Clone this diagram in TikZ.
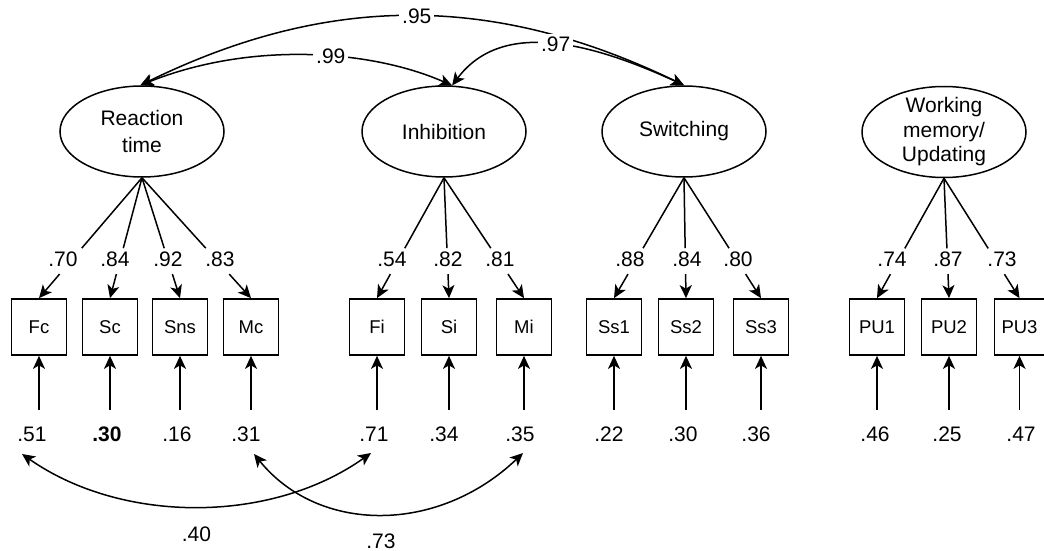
\documentclass[tikz,border=0pt]{standalone}
\usepackage{fontspec}
\setmainfont{Liberation Sans}
\usetikzlibrary{arrows.meta,shapes.geometric,calc}

\begin{document}
\begin{tikzpicture}[x=1pt,y=-1pt,
  line width=1.5pt,
  tip/.tip={Stealth[length=13pt,width=12pt,inset=3.5pt]},
  arr/.style={-tip},
  darr/.style={tip-tip},
  latent/.style={draw, ellipse, line width=1.5pt, minimum width=164pt,
    minimum height=91pt, inner sep=0pt},
  lattext/.style={align=center, font=\fontsize{21}{27}\selectfont, inner sep=0pt},
  obs/.style={draw, rectangle, line width=1.7pt, minimum width=55pt,
    minimum height=56pt, inner sep=0pt, font=\fontsize{18.5}{20}\selectfont},
  num/.style={font=\fontsize{21}{22}\selectfont, inner sep=2pt},
  numw/.style={num, fill=white, inner sep=3pt},
]
\fill[white] (0,0) rectangle (1044,551);
\useasboundingbox (0,0) rectangle (1044,551);

% latent factors
\node[latent, label={[lattext]center:Reaction\\time}] (RT) at (142,131.5) {};
\node[latent, label={[lattext]center:Inhibition}] (Inh) at (444,131.5) {};
\node[latent, label={[lattext]center:Switching}] (Sw) at (684,131.5) {};
\node[latent, label={[lattext,font=\fontsize{21}{24.5}\selectfont]center:Working\\memory/\\Updating}] (WM) at (944,132) {};

% observed indicators
\node[obs] (Fc)  at (39,327)  {Fc};
\node[obs] (Sc)  at (110,327) {Sc};
\node[obs] (Sns) at (180,327) {Sns};
\node[obs] (Mc)  at (251,327) {Mc};
\node[obs] (Fi)  at (377,327) {Fi};
\node[obs] (Si)  at (449,327) {Si};
\node[obs] (Mi)  at (524,327) {Mi};
\node[obs] (Ss1) at (614,327) {Ss1};
\node[obs] (Ss2) at (686,327) {Ss2};
\node[obs] (Ss3) at (761,327) {Ss3};
\node[obs] (PU1) at (877,327) {PU1};
\node[obs] (PU2) at (949,327) {PU2};
\node[obs, minimum width=50pt] (PU3) at (1019.5,327) {PU3};

% loading paths, broken where the coefficient sits
\foreach \l/\o in {RT/Fc,RT/Sc,RT/Sns,RT/Mc,Inh/Fi,Inh/Si,Inh/Mi,
                   Sw/Ss1,Sw/Ss2,Sw/Ss3,WM/PU1,WM/PU2,WM/PU3}{
  \path (\l.south) -- (\o.north) coordinate[pos=.585] (ga) coordinate[pos=.80] (gb);
  \draw (\l.south) -- (ga);
  \draw[arr] (gb) -- (\o.north);
}

% standardized loadings
\node[num] (lFc)  at (63,259)   {.70};
\node[num] (lSc)  at (115,259)  {.84};
\node[num] (lSns) at (168,259)  {.92};
\node[num] (lMc)  at (220,259)  {.83};
\node[num] (lFi)  at (392,259)  {.54};
\node[num] (lSi)  at (448,259)  {.82};
\node[num] (lMi)  at (500,259)  {.81};
\node[num] (lSs1) at (630,259)  {.88};
\node[num] (lSs2) at (687,259)  {.84};
\node[num] (lSs3) at (738,259)  {.80};
\node[num] (lPU1) at (892,259)  {.74};
\node[num] (lPU2) at (948,259)  {.87};
\node[num] (lPU3) at (1002,259) {.73};

% residual variances
\node[num] (e51)  at (32,434)   {.51};
\node[num] (e30)  at (107,434)  {\bfseries .30};
\node[num] (e16)  at (177,434)  {.16};
\node[num] (e31)  at (246,434)  {.31};
\node[num] (e71)  at (374,434)  {.71};
\node[num] (e34)  at (444,434)  {.34};
\node[num] (e35)  at (520,434)  {.35};
\node[num] (e22)  at (609,434)  {.22};
\node[num] (e30b) at (683,434)  {.30};
\node[num] (e36)  at (756,434)  {.36};
\node[num] (e46)  at (875,434)  {.46};
\node[num] (e25)  at (947,434)  {.25};
\node[num] (e47)  at (1021,434) {.47};

\foreach \e/\o in {e51/Fc,e30/Sc,e16/Sns,e31/Mc,e71/Fi,e34/Si,e35/Mi,
                   e22/Ss1,e30b/Ss2,e36/Ss3,e46/PU1,e25/PU2,e47/PU3}{
  \draw[arr, shorten <=14pt] (\o.south |- \e.north) -- (\o.south);
}

% factor correlations
\draw[darr] (RT.92) .. controls +(188,-92) and +(-190,-92) .. (Sw.north)
  node[numw, pos=.51] {.95};
\draw[darr] (RT.92) .. controls +(110,-44) and +(-82,-36) .. (Inh.80)
  node[numw, pos=.575] {.99};
\draw[darr] (Inh.80) .. controls +(48,-64) and +(-100,-46) .. (Sw.north)
  node[numw, pos=.53] {.97};

% residual correlations
\coordinate (t51) at ($(e51)+(-10,20)$);
\coordinate (t71) at ($(e71)+(-3,19)$);
\coordinate (t31) at ($(e31)+(8,20)$);
\coordinate (t35) at ($(e35)+(3,19)$);
\draw[darr] (t51) .. controls +(100,70) and +(-100,71) .. (t71)
  node[num, pos=.5, yshift=-28pt] {.40};
\draw[darr] (t31) .. controls +(65,80) and +(-85,81) .. (t35)
  node[num, pos=.5, yshift=-27pt] {.73};
\end{tikzpicture}
\end{document}
